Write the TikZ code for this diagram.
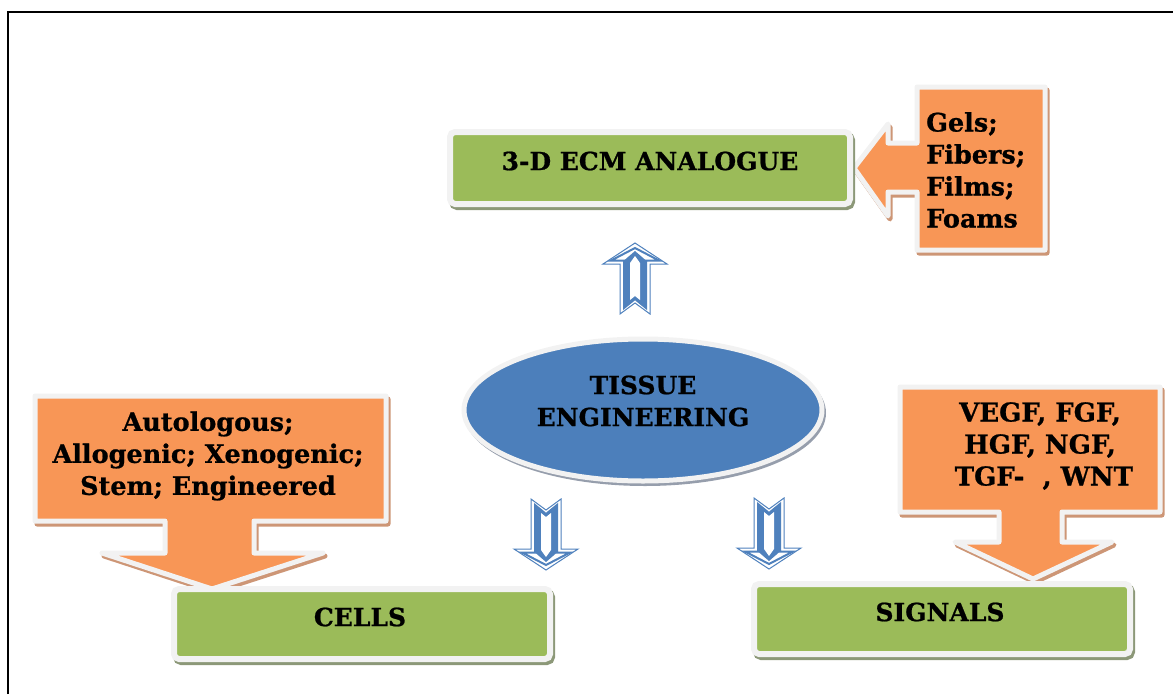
\documentclass[tikz,border=0pt]{standalone}
\usepackage{fontspec}
\setmainfont{DejaVu Serif}[BoldFeatures={FakeBold=0.8}]
\usepackage{tikz}
\definecolor{ofill}{RGB}{248,150,86}
\definecolor{gfill}{RGB}{155,187,89}
\definecolor{bfill}{RGB}{76,127,187}
\definecolor{bline}{RGB}{79,129,189}
\definecolor{wborder}{RGB}{242,242,242}
\definecolor{oshadow}{RGB}{205,150,118}
\definecolor{gshadow}{RGB}{140,152,120}
\definecolor{eshadow}{RGB}{150,158,172}
\tikzset{
  ostyle/.style={fill=ofill, draw=wborder, line width=5pt, line join=round},
  oshadowst/.style={fill=oshadow, draw=oshadow, line width=5pt, line join=round, shift={(2,3)}},
  gstyle/.style={fill=gfill, draw=wborder, line width=6pt, rounded corners=5pt},
  gshadowst/.style={fill=gshadow, draw=gshadow, line width=6pt, rounded corners=5pt, shift={(2,3)}},
  ttl/.style={font=\fontsize{25}{30}\selectfont\bfseries, text=black, inner sep=0pt},
  lst/.style={font=\fontsize{25.5}{32}\selectfont\bfseries, text=black, inner sep=0pt},
  blueout/.style={draw=bline, line width=1pt, fill=white, line join=miter},
  bluein/.style={draw=bline, line width=2pt, fill=white, line join=miter},
}
\newcommand\hollowarrow[3]{%
  \begin{scope}[shift={(#1,#2)}, yscale=#3]
    \path[blueout] (0,0) -- (32,21) -- (15,21) -- (15,71) -- (0,60) -- (-15,71) -- (-15,21) -- (-32,21) -- cycle;
    \path[bluein] (0,5) -- (24,17.5) -- (11,17.5) -- (11,65) -- (0,56) -- (-11,65) -- (-11,17.5) -- (-24,17.5) -- cycle;
    \fill[bline] (0,8) -- (11,17.5) -- (11,65) -- (0,56) -- (-11,65) -- (-11,17.5) -- cycle;
    \fill[white] (0,13) -- (5,20) -- (5,57) -- (0,53) -- (-5,57) -- (-5,20) -- cycle;
  \end{scope}}
\def\cellspath{(35,396) -- (386,396) -- (386,521) -- (254,521) -- (254,553) -- (323,553) -- (212,589) -- (102,553) -- (165,553) -- (165,521) -- (35,521) -- cycle}
\def\sigpath{(900,387) -- (1160,387) -- (1160,512) -- (1062,512) -- (1062,542) -- (1112,542) -- (1033,579) -- (955,542) -- (999,542) -- (999,512) -- (900,512) -- cycle}
\def\gelspath{(917,87) -- (1045,87) -- (1045,250) -- (917,250) -- (917,192) -- (888,192) -- (888,216) -- (854,168) -- (888,124) -- (888,143) -- (917,143) -- cycle}
\begin{document}
\begin{tikzpicture}[x=1pt,y=-1pt]
\useasboundingbox (0,0) rectangle (1173,694);
% frame
\draw[line width=2.5pt] (8,694) -- (8,12) -- (1173,12);

% callout shapes
\path[oshadowst] \gelspath;
\path[ostyle] \gelspath;
\path[oshadowst] \cellspath;
\path[ostyle] \cellspath;
\path[oshadowst] \sigpath;
\path[ostyle] \sigpath;

% green boxes
\path[gshadowst] (450,132) rectangle (850,204);
\path[gstyle] (450,132) rectangle (850,204);
\path[gshadowst] (174,589) rectangle (550,659);
\path[gstyle] (174,589) rectangle (550,659);
\path[gshadowst] (754,584) rectangle (1130,654);
\path[gstyle] (754,584) rectangle (1130,654);

% ellipse
\fill[eshadow] (645,413) ellipse [x radius=181, y radius=73];
\path[fill=bfill, draw=wborder, line width=5pt] (643,410) ellipse [x radius=179, y radius=71];

% hollow arrows
\hollowarrow{635}{243}{1}
\hollowarrow{546}{570}{-1}
\hollowarrow{769}{569}{-1}

% texts
\node[ttl] (ecm) at (650,161) {3-D ECM ANALOGUE};
\node[ttl] (cells) at (360,617) {CELLS};
\node[ttl] (signals) at (940,612) {SIGNALS};
\node[ttl, align=center, font=\fontsize{25}{32}\selectfont\bfseries] (te) at (643,401) {TISSUE\\ENGINEERING};
\node[lst, anchor=west, align=left] (gels) at (926,170) {Gels;\\Fibers;\\Films;\\Foams};
\node[lst, align=center] (cellsl) at (208,456) {Autologous;\\Allogenic; Xenogenic;\\Stem; Engineered};
\node[font=\fontsize{26}{32}\selectfont\bfseries, text=black, inner sep=0pt, align=center] (sigl) at (1040,446) {VEGF, FGF,\\HGF, NGF,\\\hspace*{0.3em}TGF-\hspace{0.7em}, WNT};
\end{tikzpicture}
\end{document}
